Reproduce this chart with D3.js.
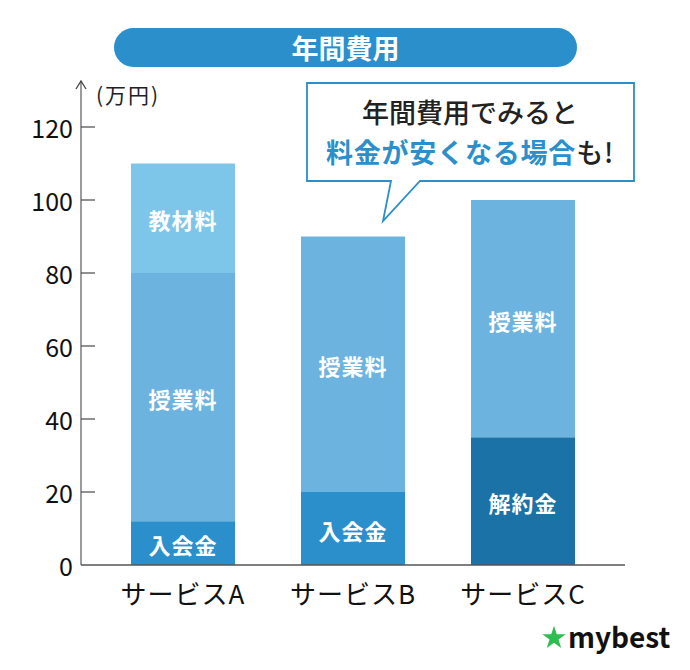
<!DOCTYPE html>
<html><head><meta charset="utf-8">
<script src="https://cdn.jsdelivr.net/npm/d3@7/dist/d3.min.js"></script>
<style>body{margin:0;background:#fff}svg{display:block}text{font-family:"Noto Sans CJK JP","Noto Sans",sans-serif}</style>
</head><body><svg id="c" width="690" height="670"></svg>
<script>
const categories = ["サービスA", "サービスB", "サービスC"];
const segmentNames = ["入会金", "解約金", "授業料", "教材料"];
const entranceFee = [12, 20, 0];
const cancelFee = [0, 0, 35];
const tuition = [68, 70, 65];
const materials = [30, 0, 0];
const yTicks = [0, 20, 40, 60, 80, 100, 120];
const colors = {"入会金": "#2b8fcb", "解約金": "#1b72a6", "授業料": "#6cb3df", "教材料": "#7ec6e9"};

const svg = d3.select("#c");
const x = d3.scaleBand().domain(categories).range([98, 608]).paddingInner(0.388).paddingOuter(0.194);
const y = d3.scaleLinear().domain([0, 120]).range([565, 127]);

const rows = categories.map((c, i) => ({cat: c, "入会金": entranceFee[i], "解約金": cancelFee[i], "授業料": tuition[i], "教材料": materials[i]}));
const stack = d3.stack().keys(segmentNames)(rows);

// Title pill
svg.append("rect").attr("x", 114).attr("y", 28).attr("width", 463).attr("height", 39).attr("rx", 19.5).attr("fill", "#2b8fcb");
svg.append("text").attr("x", 345.5).attr("y", 47).attr("text-anchor", "middle").attr("dominant-baseline", "central")
  .attr("fill", "#fff").attr("font-size", 27).attr("font-weight", 700).text("年間費用");

// bars
stack.forEach(layer => {
  layer.forEach((d, i) => {
    if (d[1] - d[0] <= 0) return;
    const bx = x(categories[i]);
    svg.append("rect").attr("x", bx).attr("width", x.bandwidth())
      .attr("y", y(d[1])).attr("height", y(d[0]) - y(d[1])).attr("fill", colors[layer.key]);
    svg.append("text").attr("x", bx + x.bandwidth() / 2).attr("y", (y(d[0]) + y(d[1])) / 2 + 1)
      .attr("text-anchor", "middle").attr("dominant-baseline", "central").attr("letter-spacing", 1)
      .attr("fill", "#fff").attr("font-size", 22).attr("font-weight", 700).text(layer.key);
  });
});

// y axis
const ax = svg.append("g").attr("transform", "translate(81,0)");
ax.append("line").attr("x1", 0).attr("x2", 0).attr("y1", y(0)).attr("y2", 81).attr("stroke", "#666").attr("stroke-width", 1.3);
ax.append("path").attr("d", "M-5,89 L0,81 L5,89").attr("fill", "none").attr("stroke", "#444").attr("stroke-width", 1.3);
yTicks.forEach(t => {
  if (t > 0) ax.append("line").attr("x1", 0).attr("x2", 14).attr("y1", y(t)).attr("y2", y(t)).attr("stroke", "#555").attr("stroke-width", 1.3);
  ax.append("text").attr("x", -8).attr("y", y(t)).attr("text-anchor", "end").attr("dominant-baseline", "central")
    .attr("fill", "#111").attr("font-size", 25).attr("font-family", "'Open Sans',sans-serif").text(t);
});
svg.append("text").attr("x", 96).attr("y", 94).attr("dominant-baseline", "central").attr("fill", "#222").attr("font-size", 21).attr("letter-spacing", 2).text("(万円)");

// x axis
svg.append("line").attr("x1", 81).attr("x2", 625).attr("y1", y(0)).attr("y2", y(0)).attr("stroke", "#555").attr("stroke-width", 1.3);
categories.forEach(c => {
  svg.append("text").attr("x", x(c) + x.bandwidth() / 2).attr("y", 592).attr("text-anchor", "middle").attr("dominant-baseline", "central")
    .attr("fill", "#111").attr("font-size", 26).attr("letter-spacing", 1).text(c);
});

// speech bubble
svg.append("path").attr("d", "M307,83 L634,83 L634,181 L420,181 L383,221 L391,181 L307,181 Z")
  .attr("fill", "#fff").attr("stroke", "#2b8fcb").attr("stroke-width", 1.8).attr("stroke-linejoin", "miter");
svg.append("text").attr("x", 470).attr("y", 111).attr("text-anchor", "middle").attr("dominant-baseline", "central")
  .attr("fill", "#222").attr("font-size", 27).attr("font-weight", 500).text("年間費用でみると");
const t2 = svg.append("text").attr("x", 470).attr("y", 151).attr("text-anchor", "middle").attr("dominant-baseline", "central").attr("font-size", 27).attr("letter-spacing", 0.8);
t2.append("tspan").attr("fill", "#2b8fcb").attr("font-weight", 700).text("料金が安くなる場合");
t2.append("tspan").attr("fill", "#222").attr("font-weight", 500).text("も!");

// logo
const star = d3.symbol().type(d3.symbolStar).size(170);
svg.append("path").attr("d", star()).attr("transform", "translate(554,638)").attr("fill", "#2ebd4e");
svg.append("text").attr("x", 568).attr("y", 636).attr("dominant-baseline", "central").attr("fill", "#111")
  .attr("font-size", 28).attr("font-weight", 700).attr("font-family", "Lato, sans-serif").text("mybest");
</script></body></html>
